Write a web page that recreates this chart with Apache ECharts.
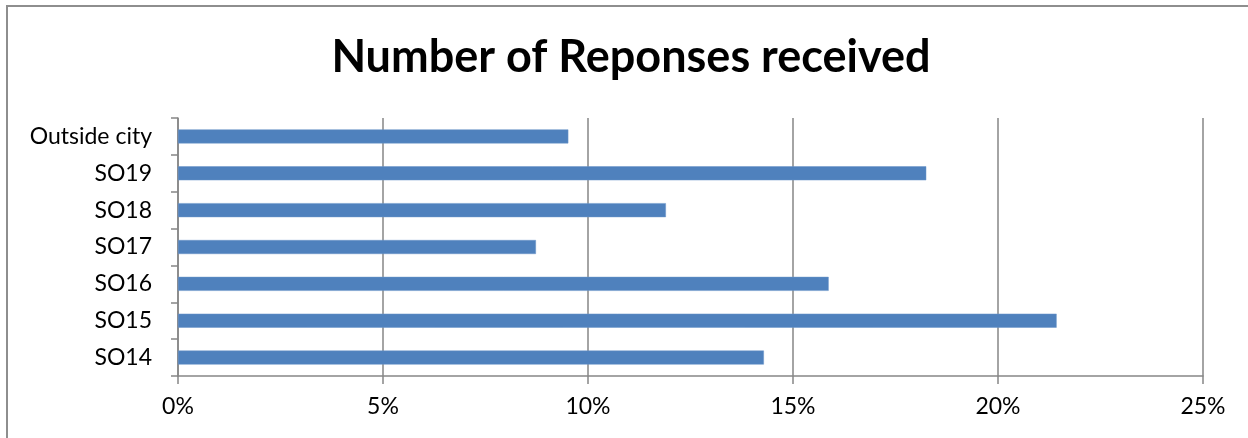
<!DOCTYPE html>
<html>
<head>
<meta charset="utf-8">
<script src="https://cdn.jsdelivr.net/npm/echarts@6/dist/echarts.min.js"></script>
<style>
  html, body { margin: 0; padding: 0; background: #fff; }
  #chart { width: 1248px; height: 438px; }
</style>
</head>
<body>
<div id="chart"></div>
<script>
// categories bottom -> top, as the category axis draws them
const categories = ['SO14', 'SO15', 'SO16', 'SO17', 'SO18', 'SO19', 'Outside city']
const shares = [14.29, 21.43, 15.87, 8.73, 11.90, 18.25, 9.52] // percent
const xTicks = [0, 5, 10, 15, 20, 25]

const font = 'Lato, "Open Sans", sans-serif'
const gray = '#868686'

const myChart = echarts.init(document.getElementById('chart'))
const option = {
  animation: false,
  graphic: [{
    type: 'rect',
    shape: { x: 7, y: 6, width: 1260, height: 460 },
    style: { fill: 'none', stroke: '#8e8e8e', lineWidth: 2 }
  }],
  title: {
    text: 'Number of Reponses received',
    left: 626,
    textAlign: 'center',
    top: 30,
    textStyle: { fontFamily: font, fontSize: 45, fontWeight: 'bold', color: '#000' }
  },
  grid: { left: 178, right: 45, top: 118, bottom: 62 },
  xAxis: {
    type: 'value',
    min: xTicks[0],
    max: xTicks[xTicks.length - 1],
    interval: 5,
    axisLine: { show: true, lineStyle: { color: gray, width: 1.5 } },
    axisTick: { show: true, length: 8, lineStyle: { color: gray, width: 1.5 } },
    splitLine: { show: true, lineStyle: { color: gray, width: 1.5 } },
    axisLabel: {
      formatter: v => v + '%',
      margin: 19,
      fontFamily: font, fontSize: 23, color: '#000'
    }
  },
  yAxis: {
    type: 'category',
    data: categories,
    axisLine: { show: true, lineStyle: { color: gray, width: 1.5 } },
    axisTick: { show: true, length: 7, lineStyle: { color: gray, width: 1.5 } },
    axisLabel: { margin: 26, fontFamily: font, fontSize: 23, color: '#000' }
  },
  series: [{
    type: 'bar',
    data: shares,
    barWidth: 14,
    itemStyle: { color: '#4f81bd', borderColor: '#6b95c8', borderWidth: 0.5 }
  }]
}
myChart.setOption(option)
</script>
</body>
</html>
